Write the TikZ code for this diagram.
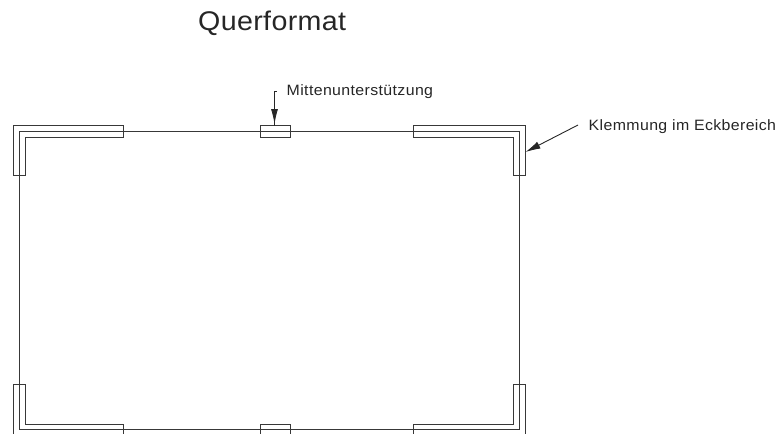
\documentclass[tikz,border=0pt]{standalone}
\usepackage{fontspec}
\setmainfont{Liberation Sans}
\newfontfamily\titlefont[FakeStretch=1.06,LetterSpace=1.3]{Liberation Sans}
\newfontfamily\notefont[FakeStretch=1.06,LetterSpace=2.5]{Liberation Sans}
\usetikzlibrary{arrows.meta}
\tikzset{
  part/.style={line width=1.05pt,draw=black!78,line join=miter},
  lbl/.style={inner sep=0pt,anchor=base west,text=black!85},
  leader/.style={line width=0.9pt,draw=black!85},
  tip/.style={-{Latex[length=15pt,width=7.5pt]}}
}
\begin{document}
\begin{tikzpicture}[x=1pt,y=-1pt]
\useasboundingbox (0,0) rectangle (778,434);
\begin{scope}
\clip (0,0) rectangle (778,433.5);
% panel edge
\draw[part] (19.5,175.5) -- (19.5,131.5) -- (519.5,131.5) -- (519.5,175.5);
\draw[part] (19.5,175.5) -- (19.5,429.5) -- (519.5,429.5) -- (519.5,175.5);
% top-left corner clamp
\draw[part] (123.5,125.5) -- (13.5,125.5) -- (13.5,175.5) -- (25.5,175.5) -- (25.5,137.5) -- (123.5,137.5) -- cycle;
% top-right corner clamp
\draw[part] (413.5,125.5) -- (525.5,125.5) -- (525.5,175.5) -- (513.5,175.5) -- (513.5,137.5) -- (413.5,137.5) -- cycle;
% top centre support
\draw[part] (260.5,125.5) rectangle (290.5,137.5);
% bottom-left corner clamp
\draw[part] (13.5,440) -- (13.5,384.5) -- (25.5,384.5) -- (25.5,424.5) -- (123.5,424.5) -- (123.5,440);
% bottom-right corner clamp
\draw[part] (413.5,440) -- (413.5,424.5) -- (513.5,424.5) -- (513.5,384.5) -- (525.5,384.5) -- (525.5,440);
% bottom centre support
\draw[part] (260.5,440) -- (260.5,424.5) -- (290.5,424.5) -- (290.5,440);
\end{scope}
\node[lbl,font=\titlefont\fontsize{27}{30}\selectfont] (title) at (198,30.5) {Querformat};
\node[lbl,font=\notefont\fontsize{15}{17}\selectfont] (mid) at (286.5,95.5) {Mittenunterstützung};
\node[lbl,font=\notefont\fontsize{15}{17}\selectfont] (klem) at (588.5,130) {Klemmung im Eckbereich};
\coordinate (midstub) at (276.8,91);
\coordinate (midbend) at (274.5,91);
\coordinate (midhead) at (274.5,124);
\coordinate (midtip) at (274.5,125.5);
\coordinate (klemstart) at (578,125);
\coordinate (klemtip) at (525.5,152);
\draw[leader] (midstub) -- (midbend) -- (midtip);
\draw[leader,-{Latex[length=15pt,width=7pt]}] (274.5,105) -- (midhead);
\draw[leader,tip] (klemstart) -- (klemtip);
\end{tikzpicture}
\end{document}
